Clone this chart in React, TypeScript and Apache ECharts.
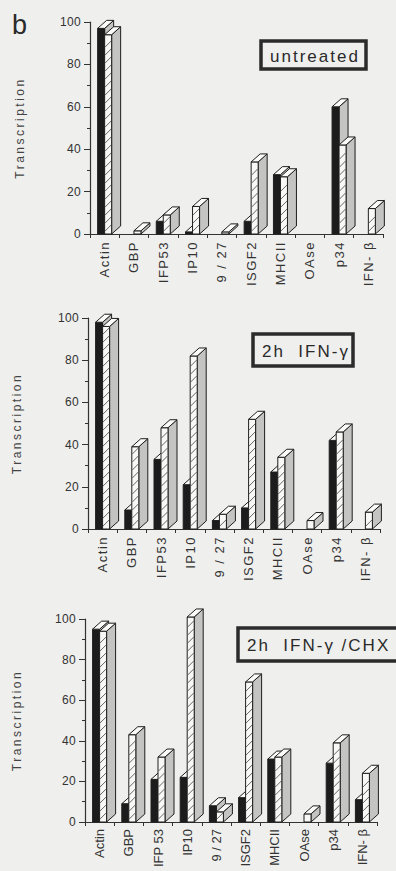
import React, { useEffect, useRef } from "react";
import * as echarts from "echarts";

// ---------- data ----------
const categories = ["Actin", "GBP", "IFP53", "IP10", "9 / 27", "ISGF2", "MHCII", "OAse", "p34", "IFN- β"];
const categoriesCHX = ["Actin", "GBP", "IFP 53", "IP10", "9 / 27", "ISGF2", "MHCII", "OAse", "p34", "IFN- β"];

const untreatedBlack = [97, null, 6, 1, null, 6, 28, null, 60, null];
const untreatedHatched = [94, 1.5, 9, 13, 1, 34, 27, null, 42, 12];

const ifngBlack = [98, 9, 33, 21, 4, 10, 27, null, 42, null];
const ifngHatched = [96, 39, 48, 82, 7, 52, 34, 4, 46, 8];

const chxBlack = [95, 9, 21, 22, 8, 12, 31, null, 29, 11];
const chxHatched = [94, 43, 32, 101, 5, 69, 32, 4, 39, 24];

const yAxisName = "Transcription";
const panelTitles = ["untreated", "2h  IFN-γ", "2h  IFN-γ /CHX"];
const figureLetter = "b";

// ---------- style ----------
const FONT = '"Liberation Sans", Arial, Helvetica, sans-serif';
const BG = "#efefed";
const INK = "#2a2a2a";
const W = 7;
const DX = 9;
const DY = 8;

type Panel = {
  top: number;
  height: number;
  grid: { left: number; top: number; width: number; height: number };
  cats: string[];
  black: (number | null)[];
  hatched: (number | null)[];
  nameGap: number;
  title: string;
  box: { x: number; y: number; w: number; h: number };
  showLetter: boolean;
  catSpacing: string;
};

const panels: Panel[] = [
  {
    top: 0,
    height: 296,
    grid: { left: 90, top: 22, width: 293, height: 212 },
    cats: categories,
    black: untreatedBlack,
    hatched: untreatedHatched,
    nameGap: 64,
    title: panelTitles[0],
    box: { x: 261, y: 41, w: 105, h: 28 },
    showLetter: true,
    catSpacing: "1.5",
  },
  {
    top: 296,
    height: 292,
    grid: { left: 88, top: 22, width: 292, height: 211 },
    cats: categories,
    black: ifngBlack,
    hatched: ifngHatched,
    nameGap: 65,
    title: panelTitles[1],
    box: { x: 253, y: 38, w: 100, h: 32 },
    showLetter: false,
    catSpacing: "1.5",
  },
  {
    top: 579,
    height: 292,
    grid: { left: 85, top: 40, width: 292, height: 203 },
    cats: categoriesCHX,
    black: chxBlack,
    hatched: chxHatched,
    nameGap: 62,
    title: panelTitles[2],
    box: { x: 238, y: 49, w: 170, h: 33 },
    showLetter: false,
    catSpacing: "0",
  },
];

function renderBar(kind: "black" | "hatched") {
  return (_params: any, api: any) => {
    const v = api.value(1);
    if (v === null || v === undefined || isNaN(v)) return null;
    const idx = api.value(0);
    const pt = api.coord([idx, v]);
    const base = api.coord([idx, 0]);
    const cx = pt[0];
    const yT = pt[1];
    const yB = base[1];
    const x0 = kind === "black" ? cx - W : cx;
    const x1 = x0 + W;
    const stroke = "#1e1e1e";
    const children: any[] = [];
    children.push({
      type: "polygon",
      shape: { points: [[x1, yB], [x1, yT], [x1 + DX, yT - DY], [x1 + DX, yB - DY]] },
      style: { fill: "#c4c4c2", stroke, lineWidth: 1 },
    });
    children.push({
      type: "rect",
      shape: { x: x0, y: yT, width: W, height: yB - yT },
      style: { fill: kind === "black" ? "#1c1c1c" : "#f8f8f6", stroke, lineWidth: 1 },
    });
    if (kind === "hatched") {
      for (let y = yB - 3; y - 6 > yT + 1; y -= 8) {
        children.push({
          type: "line",
          shape: { x1: x0 + 0.5, y1: y, x2: x1 - 0.5, y2: y - 6 },
          style: { stroke: "#555", lineWidth: 0.9 },
        });
      }
    }
    children.push({
      type: "polygon",
      shape: { points: [[x0, yT], [x1, yT], [x1 + DX, yT - DY], [x0 + DX, yT - DY]] },
      style: { fill: "#fbfbf9", stroke, lineWidth: 1 },
    });
    return { type: "group", children };
  };
}

function makeOption(p: Panel): any {
  const graphic: any[] = [
    {
      type: "rect",
      shape: { x: p.box.x, y: p.box.y, width: p.box.w, height: p.box.h },
      style: { fill: BG, stroke: "#2b2b2b", lineWidth: 3.5 },
      z: 10,
    },
    {
      type: "text",
      x: p.box.x + 9,
      y: p.box.y + p.box.h / 2 + 1,
      style: {
        text: p.title,
        font: `17px ${FONT}`,
        fill: INK,
        textAlign: "left",
        textVerticalAlign: "middle",
      },
      z: 11,
    },
  ];
  if (p.showLetter) {
    graphic.push({
      type: "text",
      x: 12,
      y: 25,
      style: {
        text: figureLetter,
        font: `27px ${FONT}`,
        fill: INK,
        textAlign: "left",
        textVerticalAlign: "middle",
      },
    });
  }
  return {
    animation: false,
    backgroundColor: "transparent",
    grid: { ...p.grid, containLabel: false },
    xAxis: {
      type: "category",
      data: p.cats,
      boundaryGap: true,
      axisLine: { show: true, lineStyle: { color: "#333", width: 1.2 } },
      axisTick: { show: true, length: 4, alignWithLabel: false, lineStyle: { color: "#333" } },
      axisLabel: {
        interval: 0,
        rotate: 90,
        margin: 7,
        fontSize: 13,
        color: "#333",
        fontFamily: FONT,
      },
      splitLine: { show: false },
    },
    yAxis: {
      type: "value",
      min: 0,
      max: 100,
      interval: 20,
      name: yAxisName,
      nameLocation: "middle",
      nameGap: p.nameGap,
      nameTextStyle: { fontSize: 12, color: "#444", fontFamily: FONT },
      axisLine: { show: true, lineStyle: { color: "#333", width: 1.2 } },
      axisTick: { show: true, length: 6, lineStyle: { color: "#333" } },
      minorTick: { show: true, splitNumber: 2, length: 3, lineStyle: { color: "#333" } },
      axisLabel: { fontSize: 12, color: "#333", margin: 9, fontFamily: FONT },
      splitLine: { show: false },
      minorSplitLine: { show: false },
    },
    series: [
      {
        type: "custom",
        clip: false,
        renderItem: renderBar("black"),
        encode: { x: 0, y: 1 },
        data: p.black.map((v, i) => [i, v]),
        z: 2,
      },
      {
        type: "custom",
        clip: false,
        renderItem: renderBar("hatched"),
        encode: { x: 0, y: 1 },
        data: p.hatched.map((v, i) => [i, v]),
        z: 3,
      },
    ],
    graphic,
  };
}

function spaceTexts(el: HTMLElement | null, catSpacing: string) {
  if (!el) return;
  el.querySelectorAll("text").forEach((t) => {
    const s = (t.textContent || "").trim();
    let ls = "0";
    if (s === yAxisName) ls = "2.5";
    else if (categories.includes(s) || categoriesCHX.includes(s)) ls = catSpacing;
    else if (panelTitles.map((x) => x.trim()).includes(s)) ls = "2";
    else if (/^\d+$/.test(s)) ls = "0.3";
    t.setAttribute("letter-spacing", ls);
  });
}

export default function App() {
  const r1 = useRef<HTMLDivElement>(null);
  const r2 = useRef<HTMLDivElement>(null);
  const r3 = useRef<HTMLDivElement>(null);

  useEffect(() => {
    const refs = [r1, r2, r3];
    const charts = panels.map((p, i) => {
      const c = echarts.init(refs[i].current as HTMLDivElement, null, { renderer: "svg" });
      c.setOption(makeOption(p));
      return c;
    });
    const apply = () => refs.forEach((r, i) => spaceTexts(r.current, panels[i].catSpacing));
    apply();
    charts.forEach((c) => c.on("finished", apply));
    const t = setTimeout(apply, 40);
    const t2 = setTimeout(apply, 300);
    return () => {
      clearTimeout(t);
      clearTimeout(t2);
      charts.forEach((c) => c.dispose());
    };
  }, []);

  const divStyle = (p: Panel): React.CSSProperties => ({
    position: "absolute",
    left: 0,
    top: p.top,
    width: 396,
    height: p.height,
    overflow: "hidden",
  });

  return (
    <div
      style={{
        position: "absolute",
        left: 0,
        top: 0,
        width: 396,
        height: 871,
        background: BG,
        overflow: "hidden",
      }}
    >
      <div ref={r1} style={divStyle(panels[0])} />
      <div ref={r2} style={divStyle(panels[1])} />
      <div ref={r3} style={divStyle(panels[2])} />
    </div>
  );
}
